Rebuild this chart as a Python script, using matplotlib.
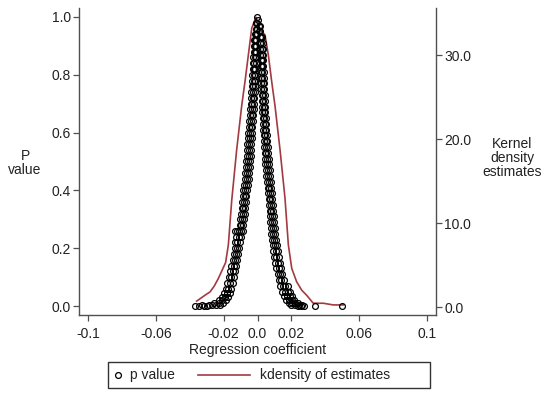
import matplotlib.pyplot as plt
from matplotlib.lines import Line2D
from matplotlib.patches import Rectangle

plt.rcParams['font.family'] = ['Liberation Sans', 'DejaVu Sans']

# p value against regression coefficient, left branch (negative estimates)
left_rows = [
    (1.00, [-0.0002]), (0.98, [-0.0006, -0.0002]), (0.96, [-0.0011, -0.0004]),
    (0.94, [-0.0016, -0.0010, -0.0004]), (0.92, [-0.0019, -0.0012, -0.0006]),
    (0.90, [-0.0021, -0.0014, -0.0007]), (0.88, [-0.0023, -0.0015, -0.0008]),
    (0.86, [-0.0025, -0.0017, -0.0009]), (0.84, [-0.0027, -0.0019, -0.0011]),
    (0.82, [-0.0029, -0.0020, -0.0012]), (0.80, [-0.0030, -0.0021, -0.0013]),
    (0.78, [-0.0032, -0.0023, -0.0014]), (0.76, [-0.0034, -0.0025, -0.0016]),
    (0.74, [-0.0036, -0.0026, -0.0017]), (0.72, [-0.0038, -0.0028, -0.0018]),
    (0.70, [-0.0040, -0.0030, -0.0020]), (0.68, [-0.0043, -0.0032, -0.0022]),
    (0.66, [-0.0046, -0.0035, -0.0024]), (0.64, [-0.0049, -0.0038, -0.0027]),
    (0.62, [-0.0052, -0.0041, -0.0030]), (0.60, [-0.0055, -0.0044, -0.0033]),
    (0.58, [-0.0057, -0.0046, -0.0035]), (0.56, [-0.0059, -0.0048, -0.0037]),
    (0.54, [-0.0061, -0.0050, -0.0039]), (0.52, [-0.0063, -0.0052, -0.0041]),
    (0.50, [-0.0066, -0.0055, -0.0044]), (0.48, [-0.0069, -0.0058, -0.0047]),
    (0.46, [-0.0072, -0.0061, -0.0050]), (0.44, [-0.0075, -0.0064, -0.0053]),
    (0.42, [-0.0079, -0.0068, -0.0057]), (0.40, [-0.0083, -0.0072, -0.0061]),
    (0.38, [-0.0087, -0.0076, -0.0065]), (0.36, [-0.0091, -0.0080, -0.0069]),
    (0.34, [-0.0094, -0.0083, -0.0072]), (0.32, [-0.0098, -0.0087, -0.0076]),
    (0.30, [-0.0102, -0.0091, -0.0080]), (0.28, [-0.0106, -0.0095, -0.0084]),
    (0.26, [-0.0132, -0.0120, -0.0108, -0.0096, -0.0084]),
    (0.24, [-0.0124, -0.0112, -0.0100]), (0.22, [-0.0130, -0.0118, -0.0106]),
    (0.20, [-0.0135, -0.0123, -0.0111]), (0.18, [-0.0140, -0.0128, -0.0116]),
    (0.16, [-0.0146, -0.0133, -0.0120]), (0.14, [-0.0154, -0.0139, -0.0125]),
    (0.12, [-0.0161, -0.0146, -0.0132]), (0.10, [-0.0169, -0.0154, -0.0139]),
    (0.08, [-0.0178, -0.0162, -0.0147]), (0.06, [-0.0188, -0.0172, -0.0156]),
    (0.045, [-0.0198, -0.0181, -0.0165]), (0.03, [-0.0212, -0.0193, -0.0175]),
    (0.02, [-0.0230, -0.0208, -0.0186]), (0.01, [-0.0254, -0.0230, -0.0204]),
    (0.004, [-0.0330, -0.0288, -0.0268, -0.0244, -0.0220]),
    (0.0, [-0.0368, -0.0345, -0.0318, -0.0296]),
]

# right branch (positive estimates)
right_rows = [
    (0.99, [0.0002]), (0.97, [0.0006, 0.0012]), (0.95, [0.0010, 0.0017]),
    (0.93, [0.0014, 0.0021, 0.0028]), (0.91, [0.0015, 0.0022, 0.0030]),
    (0.89, [0.0016, 0.0024, 0.0031]), (0.87, [0.0017, 0.0025, 0.0033]),
    (0.85, [0.0018, 0.0026, 0.0034]), (0.83, [0.0019, 0.0027, 0.0035]),
    (0.81, [0.0020, 0.0028, 0.0036]), (0.79, [0.0021, 0.0029, 0.0037]),
    (0.77, [0.0022, 0.0030, 0.0039]), (0.75, [0.0023, 0.0032, 0.0040]),
    (0.73, [0.0025, 0.0033, 0.0042]), (0.71, [0.0026, 0.0034, 0.0043]),
    (0.69, [0.0027, 0.0036, 0.0045]), (0.67, [0.0029, 0.0038, 0.0047]),
    (0.65, [0.0031, 0.0040, 0.0049]), (0.63, [0.0033, 0.0042, 0.0051]),
    (0.61, [0.0035, 0.0044, 0.0053]), (0.59, [0.0036, 0.0046, 0.0055]),
    (0.57, [0.0038, 0.0048, 0.0058]), (0.55, [0.0040, 0.0050, 0.0060]),
    (0.53, [0.0042, 0.0052, 0.0062]), (0.51, [0.0045, 0.0055, 0.0065]),
    (0.49, [0.0047, 0.0057, 0.0068]), (0.47, [0.0050, 0.0060, 0.0071]),
    (0.45, [0.0053, 0.0063, 0.0074]), (0.43, [0.0056, 0.0066, 0.0077]),
    (0.41, [0.0059, 0.0069, 0.0080]), (0.39, [0.0062, 0.0073, 0.0084]),
    (0.37, [0.0065, 0.0076, 0.0087]), (0.35, [0.0068, 0.0079, 0.0090]),
    (0.33, [0.0071, 0.0082, 0.0093]), (0.31, [0.0074, 0.0085, 0.0096]),
    (0.29, [0.0076, 0.0087, 0.0098]), (0.27, [0.0079, 0.0090, 0.0101]),
    (0.25, [0.0082, 0.0094, 0.0106]), (0.23, [0.0086, 0.0098, 0.0110]),
    (0.21, [0.0090, 0.0102, 0.0115]), (0.19, [0.0094, 0.0107, 0.0120]),
    (0.17, [0.0099, 0.0112, 0.0125]), (0.15, [0.0105, 0.0118, 0.0131]),
    (0.13, [0.0111, 0.0125, 0.0139]), (0.11, [0.0118, 0.0132, 0.0146]),
    (0.09, [0.0126, 0.0140, 0.0155]), (0.07, [0.0135, 0.0150, 0.0165, 0.0178]),
    (0.05, [0.0146, 0.0162, 0.0178, 0.0190]), (0.035, [0.0157, 0.0174, 0.0190, 0.0202]),
    (0.02, [0.0170, 0.0188, 0.0206, 0.0218]), (0.01, [0.0184, 0.0203, 0.0222, 0.0236]),
    (0.004, [0.0200, 0.0222, 0.0244, 0.0262]),
    (0.0, [0.0238, 0.0256, 0.0276, 0.0340, 0.0500]),
]

# kernel density of the estimates
kd_x = [-0.0359, -0.0310, -0.0280, -0.0255, -0.0231, -0.0188, -0.0172, -0.0152,
        -0.0123, -0.0093, -0.0074, -0.0054, -0.0034, -0.0009, 0.0015, 0.0044,
        0.0064, 0.0084, 0.0103, 0.0133, 0.0162, 0.0182, 0.0202, 0.0231, 0.0261,
        0.0290, 0.0329, 0.0388, 0.0447, 0.0506]
kd_y = [0.7, 1.4, 1.8, 2.5, 3.4, 5.3, 7.4, 12.7, 18.7, 24.0, 26.8, 30.0, 33.2, 34.5,
        33.0, 32.4, 30.0, 26.8, 24.0, 18.7, 13.0, 7.4, 4.6, 3.0, 2.0, 1.4, 0.45,
        0.45, 0.25, 0.25]

xticks = [-0.1, -0.06, -0.02, 0.0, 0.02, 0.06, 0.1]
xtick_labels = ['-0.1', '-0.06', '-0.02', '0.0', '0.02', '0.06', '0.1']
p_ticks = [0.0, 0.2, 0.4, 0.6, 0.8, 1.0]
kd_ticks = [0.0, 10.0, 20.0, 30.0]

coef = [c for p, cs in left_rows + right_rows for c in cs]
pval = [p for p, cs in left_rows + right_rows for c in cs]

W, H = 550, 396
fig = plt.figure(figsize=(5.5, 3.96), dpi=100)
ax = fig.add_axes([79 / W, 1 - 315 / H, (436 - 79) / W, (315 - 8) / H])
ax2 = ax.twinx()

red = '#a23a40'
spine_c = '#505050'
txt_c = '#222222'
fs = 10

ax.plot(coef, pval, linestyle='none', marker='o', ms=4.2, mfc='none',
        mec='black', mew=0.9, zorder=3)
ax2.plot(kd_x, kd_y, color=red, lw=1.2, zorder=2)
ax.set_zorder(ax2.get_zorder() + 1)
ax.patch.set_visible(False)

ax.set_xlim(-0.1053, 0.1053)
ax.set_ylim(-0.031, 1.031)
ax2.set_ylim(-0.95, 35.6)

ax.set_xticks(xticks)
ax.set_xticklabels(xtick_labels)
ax.set_yticks(p_ticks)
ax.set_yticklabels([f'{t:.1f}' for t in p_ticks])
ax2.set_yticks(kd_ticks)
ax2.set_yticklabels([f'{t:.1f}' for t in kd_ticks])

for a in (ax, ax2):
    a.spines['top'].set_visible(False)
    for s in a.spines.values():
        s.set_color(spine_c)
        s.set_linewidth(1.0)
    a.tick_params(colors=spine_c, labelcolor=txt_c, labelsize=fs,
                  length=4, width=0.9, pad=2)
ax.tick_params(axis='x', pad=5)
ax.spines['right'].set_visible(False)
ax2.spines['left'].set_visible(False)
ax2.spines['bottom'].set_visible(False)

ax.set_xlabel('Regression coefficient', fontsize=fs, color=txt_c, labelpad=1)
fig.text(25 / W, 1 - 163 / H, 'P\nvalue', ha='center', va='center',
         fontsize=fs, color=txt_c, linespacing=1.0)
fig.text(512 / W, 1 - 158 / H, 'Kernel\ndensity\nestimates', ha='center',
         va='center', fontsize=fs, color=txt_c, linespacing=1.0)

# legend drawn as a box below the plot
fig.patches.append(Rectangle((108 / W, 1 - 388 / H), (430 - 108) / W, 26 / H,
                             transform=fig.transFigure, fill=False,
                             edgecolor='#333333', lw=1.0))
fig.lines.append(Line2D([118 / W], [1 - 375 / H], transform=fig.transFigure,
                        marker='o', ms=4.2, mfc='none', mec='black', mew=0.9,
                        linestyle='none'))
fig.text(130 / W, 1 - 375 / H, 'p value', va='center', fontsize=fs, color=txt_c)
fig.lines.append(Line2D([198 / W, 250 / W], [1 - 375 / H, 1 - 375 / H],
                        transform=fig.transFigure, color=red, lw=1.2))
fig.text(260 / W, 1 - 375 / H, 'kdensity of estimates', va='center',
         fontsize=fs, color=txt_c)

fig.savefig('out.png', dpi=100)
